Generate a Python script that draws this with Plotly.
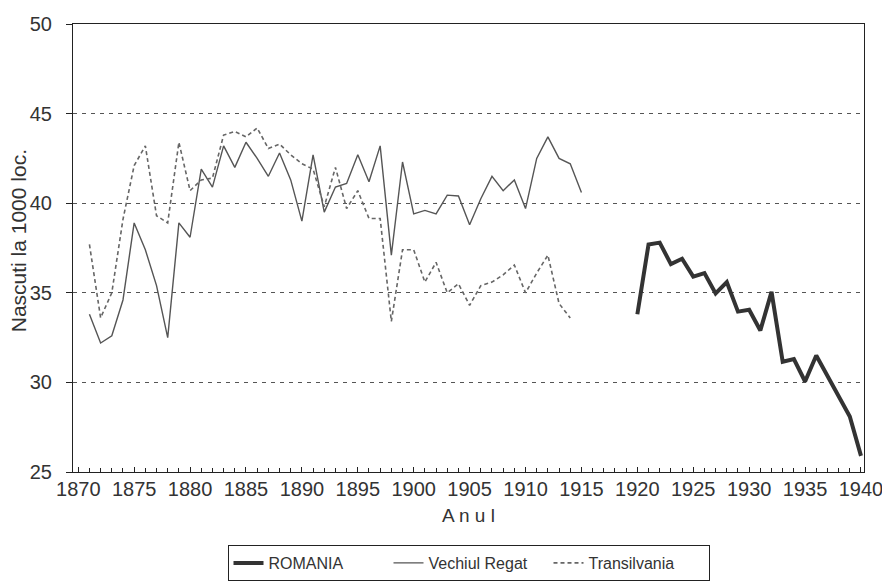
import plotly.graph_objects as go

# Vechiul Regat 1871-1915
years_vr = list(range(1871, 1916))
vechiul_regat = [33.8, 32.2, 32.6, 34.6, 38.9, 37.4, 35.4, 32.5, 38.9, 38.1,
                 41.9, 40.9, 43.2, 42.0, 43.4, 42.5, 41.5, 42.8, 41.3, 39.0,
                 42.7, 39.5, 40.9, 41.1, 42.7, 41.2, 43.2, 37.1, 42.3, 39.4,
                 39.6, 39.4, 40.45, 40.4, 38.8, 40.25, 41.5, 40.7, 41.3, 39.7,
                 42.5, 43.7, 42.5, 42.2, 40.6]

# Transilvania 1871-1914
years_tr = list(range(1871, 1915))
transilvania = [37.7, 33.6, 35.0, 39.1, 42.1, 43.2, 39.3, 38.9, 43.4, 40.7,
                41.3, 41.4, 43.8, 44.0, 43.7, 44.2, 43.05, 43.3, 42.7, 42.2,
                41.9, 39.8, 42.0, 39.7, 40.7, 39.15, 39.15, 33.4, 37.4, 37.4,
                35.6, 36.7, 35.0, 35.5, 34.3, 35.4, 35.6, 36.0, 36.55, 35.0,
                36.1, 37.1, 34.4, 33.6]

# Romania 1920-1940
years_ro = list(range(1920, 1941))
romania = [33.8, 37.7, 37.8, 36.6, 36.9, 35.9, 36.1, 34.96, 35.6, 33.95,
           34.05, 32.9, 35.05, 31.15, 31.3, 30.05, 31.5, 30.35, 29.3, 28.1, 25.9]

x_tick_vals = list(range(1870, 1941, 5))
y_tick_vals = [25, 30, 35, 40, 45, 50]

FONT = "Arial, Liberation Sans, sans-serif"
TXT = "#333333"
W, H = 882, 582

fig = go.Figure()
fig.add_trace(go.Scatter(x=years_ro, y=romania, mode="lines", name="ROMANIA",
                         line=dict(color="#333333", width=4)))
fig.add_trace(go.Scatter(x=years_vr, y=vechiul_regat, mode="lines", name="Vechiul Regat",
                         line=dict(color="#555555", width=1.4)))
fig.add_trace(go.Scatter(x=years_tr, y=transilvania, mode="lines", name="Transilvania",
                         line=dict(color="#666666", width=1.6, dash="4px,3px")))

fig.update_layout(
    width=W, height=H,
    margin=dict(l=73, r=18, t=23.5, b=109.5, autoexpand=False),
    paper_bgcolor="white", plot_bgcolor="white",
    font=dict(family=FONT, color=TXT, size=20),
    showlegend=True,
    legend=dict(orientation="h", xanchor="center", x=0.5, yref="container",
                yanchor="top", y=1 - 545 / H,
                bordercolor="#222222", borderwidth=1,
                font=dict(size=16, color=TXT), entrywidth=115, entrywidthmode="pixels",
                tracegroupgap=0),
    annotations=[dict(text="Nascuti la 1000 loc.", textangle=-90,
                      xref="paper", yref="paper", x=0, y=0.515,
                      xanchor="center", yanchor="middle", xshift=-55,
                      showarrow=False, font=dict(size=21, color=TXT))],
)

fig.update_xaxes(
    automargin=False,
    range=[1869.53, 1940.27],
    tickvals=x_tick_vals, ticktext=[str(v) for v in x_tick_vals],
    ticks="inside", ticklen=5, tickcolor="#222222",
    minor=dict(dtick=1, tick0=1870, ticks="inside", ticklen=4, tickcolor="#222222"),
    showline=True, linecolor="#222222", linewidth=1.2, mirror=True,
    showgrid=False, zeroline=False,
    ticklabelstandoff=-1, ticklabeloverflow="allow",
    tickfont=dict(size=20, color=TXT),
    title=dict(text="A n u l", font=dict(size=19, color=TXT), standoff=9),
)
fig.update_yaxes(
    automargin=False,
    range=[25, 50],
    tickvals=y_tick_vals,
    ticks="outside", ticklen=6, tickcolor="#222222",
    ticklabelstandoff=10,
    showline=True, linecolor="#222222", linewidth=1.2, mirror=True,
    showgrid=True, gridcolor="#555555", gridwidth=1, griddash="4px,5px",
    zeroline=False,
    tickfont=dict(size=20, color=TXT),
)

fig.write_html("out.html", config={"displayModeBar": False},
               post_script="document.body.style.margin='0';document.body.style.overflow='hidden';")
